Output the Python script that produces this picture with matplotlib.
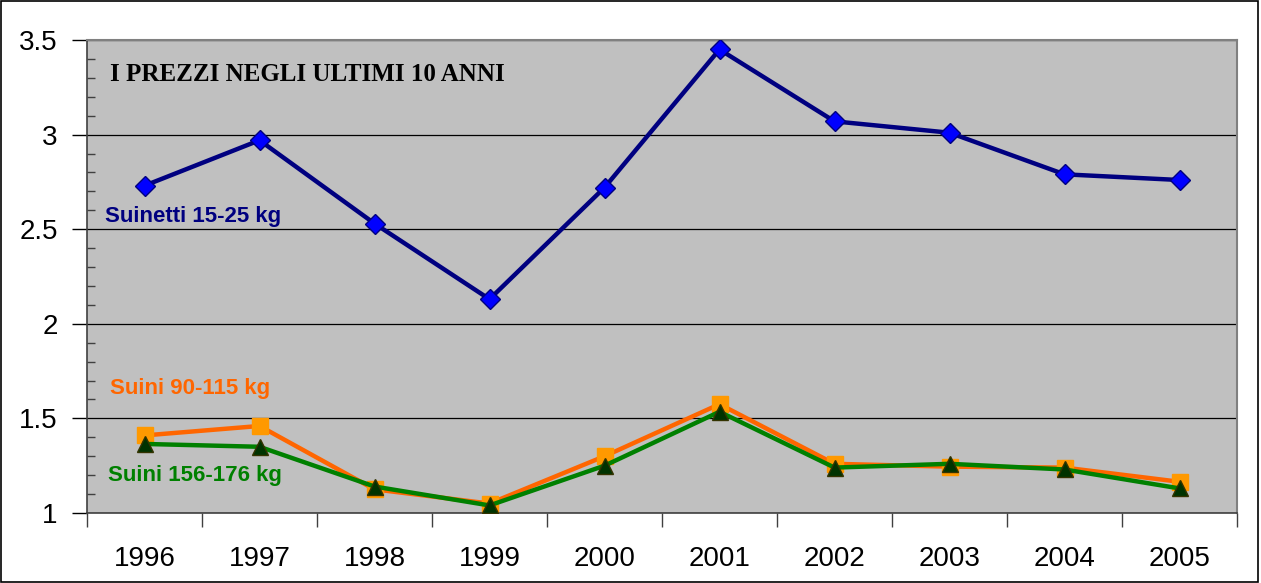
import matplotlib
matplotlib.use("Agg")
import matplotlib.pyplot as plt
from matplotlib.patches import Rectangle
from matplotlib.ticker import MultipleLocator, FixedLocator, FuncFormatter, NullFormatter
import numpy as np

years = ["1996", "1997", "1998", "1999", "2000", "2001", "2002", "2003", "2004", "2005"]
suinetti = [2.73, 2.97, 2.53, 2.13, 2.72, 3.45, 3.07, 3.01, 2.79, 2.76]
suini_90_115 = [1.41, 1.46, 1.125, 1.05, 1.30, 1.575, 1.26, 1.245, 1.24, 1.165]
suini_156_176 = [1.365, 1.35, 1.14, 1.04, 1.25, 1.535, 1.24, 1.26, 1.23, 1.13]

title = "I PREZZI NEGLI ULTIMI 10 ANNI"
label_suinetti = "Suinetti 15-25 kg"
label_90 = "Suini 90-115 kg"
label_156 = "Suini 156-176 kg"

fig = plt.figure(figsize=(12.61, 5.83), dpi=100, facecolor="white")
ax = fig.add_axes([87 / 1261, 70 / 583, 1150 / 1261, 473 / 583])
ax.set_facecolor("#c0c0c0")

x = np.arange(len(years))

ax.plot(x, suini_90_115, color="#ff6600", lw=3.2, marker="s", ms=11,
        mfc="#ff9900", mec="#ff9900", zorder=3)
ax.plot(x, suini_156_176, color="#008000", lw=3.2, marker="^", ms=11,
        mfc="#003300", mec="#333300", mew=1, zorder=4)
ax.plot(x, suinetti, color="#000080", lw=3.2, marker="D", ms=10,
        mfc="#0000ff", mec="#000080", mew=1, zorder=4)

ax.set_xlim(-0.5, len(years) - 0.5)
ax.set_ylim(1, 3.5)

# y axis: major ticks outward, minor ticks inward
ax.yaxis.set_major_locator(MultipleLocator(0.5))
ax.yaxis.set_minor_locator(MultipleLocator(0.1))
ax.yaxis.set_major_formatter(FuncFormatter(lambda v, p: f"{v:g}"))
ax.tick_params(axis="y", which="major", direction="out", length=11, width=1,
               labelsize=20, pad=10, colors="black")
ax.tick_params(axis="y", which="minor", direction="in", length=6, width=1, color="#404040")
ax.grid(axis="y", which="major", color="black", lw=0.9, zorder=1)

# x axis: ticks between categories, labels at centres
ax.xaxis.set_major_locator(FixedLocator(np.arange(-0.5, len(years), 1.0)))
ax.xaxis.set_major_formatter(NullFormatter())
ax.set_xticks(x, years, minor=True)
ax.tick_params(axis="x", which="major", direction="out", length=10, width=1, color="#404040")
ax.tick_params(axis="x", which="minor", length=0, labelsize=20, pad=24)

for side in ["top", "right"]:
    ax.spines[side].set_color("#808080")
    ax.spines[side].set_linewidth(1.5)
for side in ["left", "bottom"]:
    ax.spines[side].set_color("#404040")
    ax.spines[side].set_linewidth(1.2)

for lab in ax.get_xticklabels(minor=True) + ax.get_yticklabels():
    lab.set_family("Liberation Sans")

ax.text(-0.3, 3.32, title, family="Liberation Serif", fontweight="bold",
        fontsize=18, color="black", va="center", ha="left")
ax.text(-0.343, 2.565, label_suinetti, family="Liberation Sans", fontweight="bold",
        fontsize=16, color="#000080", va="center", ha="left")
ax.text(-0.3, 1.66, label_90, family="Liberation Sans", fontweight="bold",
        fontsize=16, color="#ff6600", va="center", ha="left")
ax.text(-0.32, 1.196, label_156, family="Liberation Sans", fontweight="bold",
        fontsize=16, color="#008000", va="center", ha="left")

fig.patches.append(Rectangle((0.001, 0.002), 0.997, 0.996, transform=fig.transFigure,
                             fill=False, edgecolor="black", lw=1.2))

fig.savefig("out.png", dpi=100, facecolor="white")
